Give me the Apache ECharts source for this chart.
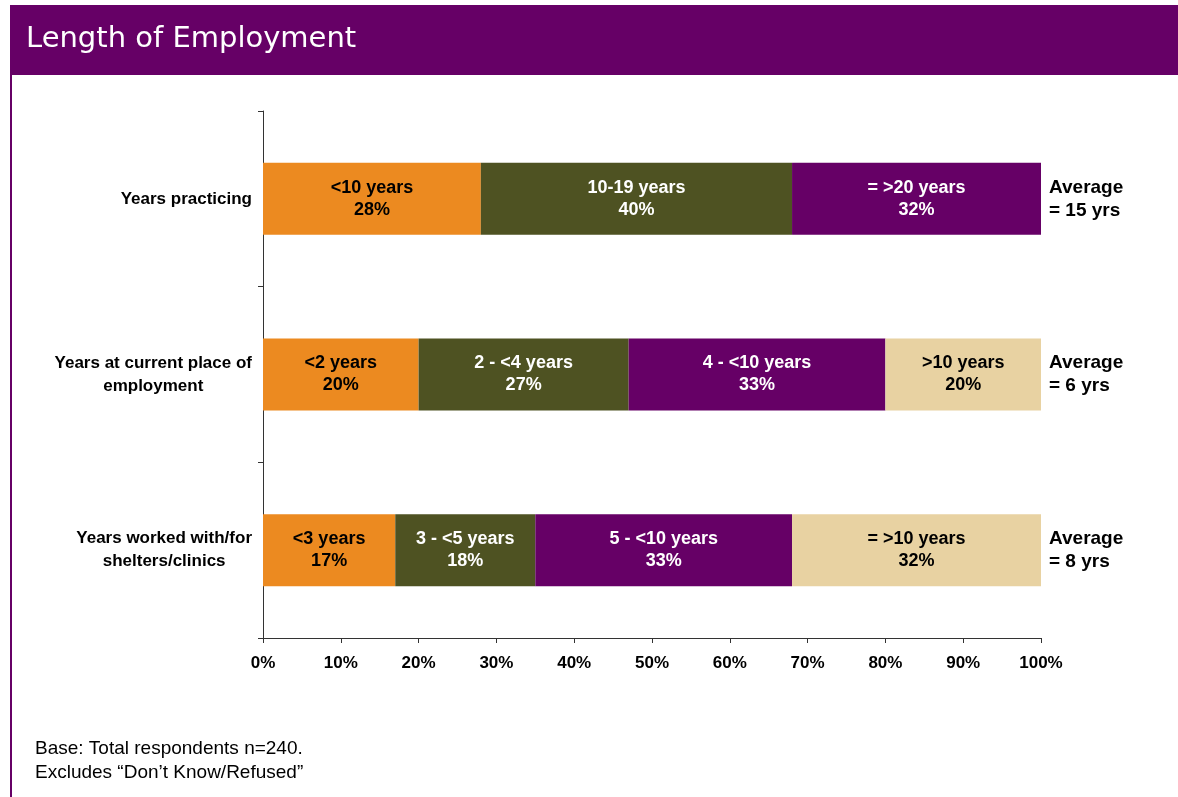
<!DOCTYPE html>
<html>
<head>
<meta charset="utf-8">
<style>
  html, body { margin: 0; padding: 0; background: #ffffff; }
  #chart { width: 1178px; height: 797px; }
</style>
<script src="https://cdn.jsdelivr.net/npm/echarts@6/dist/echarts.min.js"></script>
</head>
<body>
<div id="chart"></div>
<script>
// Rows of the stacked bar chart, top to bottom
const categories = [
  'Years practicing',
  'Years at current place of\nemployment',
  'Years worked with/for\nshelters/clinics'
];

// Segment names per row
const segmentNames = [
  ['<10 years', '10-19 years', '= >20 years'],
  ['<2 years', '2 - <4 years', '4 - <10 years', '>10 years'],
  ['<3 years', '3 - <5 years', '5 - <10 years', '= >10 years']
];

// Segment shares (%) per row
const segmentValues = [
  [28, 40, 32],
  [20, 27, 33, 20],
  [17, 18, 33, 32]
];

// Average length shown to the right of each bar
const averages = ['Average\n= 15 yrs', 'Average\n= 6 yrs', 'Average\n= 8 yrs'];

// Axis tick values
const xTicks = [0, 10, 20, 30, 40, 50, 60, 70, 80, 90, 100];

const segmentColors = ['#EC8A20', '#4E5222', '#660066', '#E8D2A2'];
const segmentTextColors = ['#000000', '#ffffff', '#ffffff', '#000000'];

const PURPLE = '#660066';
const FONT = 'Liberation Sans, Arial, sans-serif';

const chart = echarts.init(document.getElementById('chart'));

const maxSegments = Math.max(...segmentValues.map(r => r.length));
const series = [];
for (let s = 0; s < maxSegments; s++) {
  series.push({
    type: 'bar',
    stack: 'total',
    barWidth: 72,
    silent: true,
    itemStyle: { color: segmentColors[s] },
    label: {
      show: true,
      position: 'inside',
      color: segmentTextColors[s],
      fontFamily: FONT,
      fontWeight: 'bold',
      fontSize: 18,
      lineHeight: 22,
      align: 'center',
      formatter: p => segmentNames[p.dataIndex][s] + '\n' + p.value + '%'
    },
    data: segmentValues.map(r => (r[s] === undefined ? '-' : r[s]))
  });
}

// Category label block: right-aligned to the axis, lines centred within it
const categoryFormatter = v => v.split('\n').map(line => '{c|' + line + '}').join('\n');

chart.setOption({
  animation: false,
  backgroundColor: '#ffffff',
  grid: { left: 263, right: 137, top: 111, bottom: 159 },
  xAxis: {
    type: 'value',
    min: xTicks[0],
    max: xTicks[xTicks.length - 1],
    interval: xTicks[1] - xTicks[0],
    axisLine: { show: true, lineStyle: { color: '#333333', width: 1 } },
    axisTick: { show: true, length: 5, lineStyle: { color: '#333333' } },
    splitLine: { show: false },
    axisLabel: {
      formatter: '{value}%',
      color: '#000000',
      fontFamily: FONT,
      fontWeight: 'bold',
      fontSize: 17,
      margin: 17
    }
  },
  yAxis: [
    {
      type: 'category',
      data: categories,
      inverse: true,
      axisLine: { show: true, lineStyle: { color: '#333333', width: 1 } },
      axisTick: { show: true, length: 5, lineStyle: { color: '#333333' } },
      axisLabel: {
        align: 'right',
        margin: 11,
        formatter: categoryFormatter,
        rich: {
          c: {
            align: 'center',
            color: '#000000',
            fontFamily: FONT,
            fontWeight: 'bold',
            fontSize: 17,
            lineHeight: 23
          }
        }
      }
    },
    {
      type: 'category',
      data: averages,
      inverse: true,
      position: 'right',
      axisLine: { show: false },
      axisTick: { show: false },
      axisLabel: {
        color: '#000000',
        fontFamily: FONT,
        fontWeight: 'bold',
        fontSize: 19,
        lineHeight: 23,
        align: 'left',
        margin: 8
      }
    }
  ],
  series: series,
  graphic: [
    {
      type: 'rect',
      shape: { x: 10, y: 5, width: 1168, height: 70 },
      style: { fill: PURPLE },
      silent: true
    },
    {
      type: 'rect',
      shape: { x: 10, y: 75, width: 2, height: 722 },
      style: { fill: PURPLE },
      silent: true
    },
    {
      type: 'text',
      left: 26,
      top: 25,
      style: {
        text: 'Length of Employment',
        fill: '#ffffff',
        font: '29px "DejaVu Sans", Tahoma, sans-serif'
      },
      silent: true
    },
    {
      type: 'text',
      left: 35,
      top: 737,
      style: {
        text: 'Base: Total respondents n=240.\nExcludes \u201cDon\u2019t Know/Refused\u201d',
        fill: '#000000',
        font: '19px ' + FONT,
        lineHeight: 24
      },
      silent: true
    }
  ]
});
</script>
</body>
</html>
